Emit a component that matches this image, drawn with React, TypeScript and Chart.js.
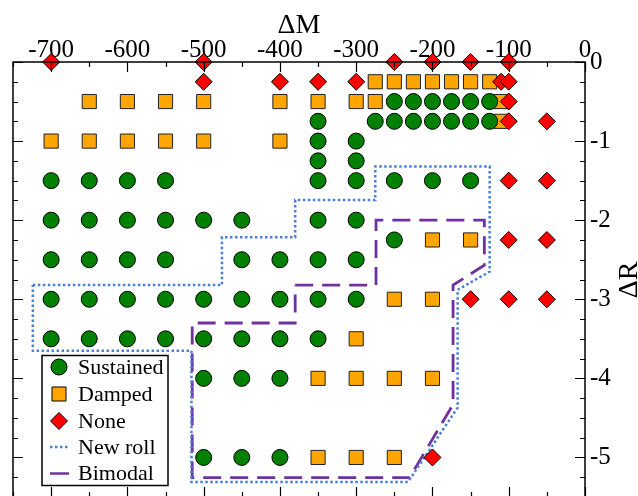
import React, { useEffect, useRef } from 'react';
import { Chart, registerables } from 'chart.js';

Chart.register(...registerables);

// ---------- data ----------
const xTicks = [-700, -600, -500, -400, -300, -200, -100, 0];
const yTicks = [0, -1, -2, -3, -4, -5];

const sustained: [number, number][] = [
  [-250, -0.5], [-225, -0.5], [-200, -0.5], [-175, -0.5], [-150, -0.5], [-125, -0.5],
  [-350, -0.75], [-275, -0.75], [-250, -0.75], [-225, -0.75], [-200, -0.75], [-175, -0.75], [-150, -0.75], [-125, -0.75],
  [-350, -1], [-300, -1],
  [-350, -1.25], [-300, -1.25],
  [-700, -1.5], [-650, -1.5], [-600, -1.5], [-550, -1.5], [-350, -1.5], [-300, -1.5], [-250, -1.5], [-200, -1.5], [-150, -1.5],
  [-700, -2], [-650, -2], [-600, -2], [-550, -2], [-500, -2], [-450, -2], [-350, -2], [-300, -2],
  [-250, -2.25],
  [-700, -2.5], [-650, -2.5], [-600, -2.5], [-550, -2.5], [-450, -2.5], [-400, -2.5], [-350, -2.5], [-300, -2.5],
  [-700, -3], [-650, -3], [-600, -3], [-550, -3], [-500, -3], [-450, -3], [-400, -3], [-350, -3], [-300, -3],
  [-700, -3.5], [-650, -3.5], [-600, -3.5], [-550, -3.5], [-500, -3.5], [-450, -3.5], [-400, -3.5], [-350, -3.5],
  [-500, -4], [-450, -4], [-400, -4],
  [-500, -5], [-450, -5], [-400, -5],
];

const damped: [number, number][] = [
  [-275, -0.25], [-250, -0.25], [-225, -0.25], [-200, -0.25], [-175, -0.25], [-150, -0.25], [-125, -0.25],
  [-650, -0.5], [-600, -0.5], [-550, -0.5], [-500, -0.5], [-400, -0.5], [-350, -0.5], [-300, -0.5], [-275, -0.5], [-110, -0.5],
  [-110, -0.75],
  [-700, -1], [-650, -1], [-600, -1], [-550, -1], [-500, -1], [-400, -1],
  [-200, -2.25], [-150, -2.25],
  [-250, -3], [-200, -3],
  [-300, -3.5],
  [-350, -4], [-300, -4], [-250, -4], [-200, -4],
  [-350, -5], [-300, -5], [-250, -5],
];

const none: [number, number][] = [
  [-700, 0], [-500, 0], [-250, 0], [-200, 0], [-150, 0], [-100, 0],
  [-500, -0.25], [-400, -0.25], [-350, -0.25], [-300, -0.25], [-110, -0.25], [-100, -0.25],
  [-100, -0.5],
  [-100, -0.75], [-50, -0.75],
  [-100, -1.5], [-50, -1.5],
  [-100, -2.25], [-50, -2.25],
  [-150, -3], [-100, -3], [-50, -3],
  [-200, -5],
];

const newRoll: [number, number][] = [
  [-724, -2.82], [-476, -2.82], [-476, -2.215], [-380, -2.215], [-380, -1.745],
  [-275, -1.745], [-275, -1.32], [-125, -1.32], [-125, -2.65], [-167, -2.88],
  [-167, -4.37], [-232, -5.31], [-516, -5.31], [-516, -3.65], [-724, -3.65], [-724, -2.82],
];

const bimodal: [number, number][] = [
  [-380, -2.82], [-274, -2.82], [-274, -2.0], [-132, -2.0], [-132, -2.57], [-173, -2.82],
  [-173, -4.33], [-230, -5.255], [-515, -5.255], [-515, -3.3], [-380, -3.3], [-380, -2.82],
];

const toXY = (arr: [number, number][]) => arr.map(([x, y]) => ({ x, y }));

const SERIF = '"Liberation Serif", "Times New Roman", serif';
const GREEN = '#008000';
const ORANGE = '#FFA500';
const RED = '#FF0000';
const BLUE = '#4a7fd6';
const PURPLE = '#7030a0';

const framePlugin = {
  id: 'frame',
  afterDatasetsDraw(chart: any) {
    const { ctx, chartArea } = chart;
    const { left, right, top, bottom } = chartArea;
    const xs = chart.scales.x;
    const ys = chart.scales.y;
    ctx.save();
    ctx.strokeStyle = '#000';
    ctx.lineWidth = 1.5;
    ctx.strokeRect(left, top, right - left, bottom - top);
    ctx.lineWidth = 1.2;
    ctx.beginPath();
    for (let v = -750; v <= 0; v += 50) {
      const px = Math.round(xs.getPixelForValue(v)) + 0.5;
      const len = v % 100 === 0 ? 10 : 5;
      ctx.moveTo(px, top); ctx.lineTo(px, top + len);
      ctx.moveTo(px, bottom); ctx.lineTo(px, bottom - len);
    }
    for (let v = 0; v >= -5.5; v -= 0.25) {
      const py = Math.round(ys.getPixelForValue(v)) + 0.5;
      const len = Math.abs(v % 1) < 1e-6 ? 10 : 5;
      ctx.moveTo(left, py); ctx.lineTo(left + len, py);
      ctx.moveTo(right, py); ctx.lineTo(right - len, py);
    }
    ctx.stroke();
    ctx.restore();
  },
  afterDraw(chart: any) {
    const { ctx, chartArea } = chart;
    const { left, right, top } = chartArea;
    ctx.save();
    // axis titles
    ctx.fillStyle = '#000';
    ctx.font = `28px ${SERIF}`;
    ctx.textAlign = 'center';
    ctx.textBaseline = 'alphabetic';
    ctx.fillText('ΔM', (left + right) / 2, 33);
    ctx.save();
    ctx.translate(637, top + 218);
    ctx.rotate(-Math.PI / 2);
    ctx.fillText('ΔR', 0, 0);
    ctx.restore();

    // legend
    const bx = left + 29, by = 355.5, bw = 126, bh = 130;
    ctx.fillStyle = '#fff';
    ctx.fillRect(bx, by, bw, bh);
    ctx.strokeStyle = '#000';
    ctx.lineWidth = 1.5;
    ctx.strokeRect(bx, by, bw, bh);
    const sx = bx + 17;
    const tx = bx + 36;
    const rows = [by + 11.5, by + 38.5, by + 65.5, by + 91.5, by + 118];
    ctx.lineWidth = 1;
    // circle
    ctx.beginPath();
    ctx.arc(sx, rows[0], 8, 0, Math.PI * 2);
    ctx.fillStyle = GREEN; ctx.fill(); ctx.strokeStyle = '#000'; ctx.stroke();
    // square
    ctx.beginPath();
    ctx.rect(sx - 7, rows[1] - 7, 14, 14);
    ctx.fillStyle = ORANGE; ctx.fill(); ctx.stroke();
    // diamond
    ctx.beginPath();
    ctx.moveTo(sx, rows[2] - 8.5); ctx.lineTo(sx + 8.5, rows[2]); ctx.lineTo(sx, rows[2] + 8.5); ctx.lineTo(sx - 8.5, rows[2]);
    ctx.closePath();
    ctx.fillStyle = RED; ctx.fill(); ctx.stroke();
    // dotted
    ctx.save();
    ctx.strokeStyle = BLUE; ctx.lineWidth = 2.5; ctx.setLineDash([2.5, 2.5]);
    ctx.beginPath(); ctx.moveTo(sx - 9, rows[3]); ctx.lineTo(sx + 10, rows[3]); ctx.stroke();
    ctx.restore();
    ctx.save();
    ctx.strokeStyle = PURPLE; ctx.lineWidth = 2.5;
    ctx.beginPath(); ctx.moveTo(sx - 9, rows[4]); ctx.lineTo(sx + 10, rows[4]); ctx.stroke();
    ctx.restore();
    ctx.fillStyle = '#000';
    ctx.font = `22px ${SERIF}`;
    ctx.textAlign = 'left';
    ctx.textBaseline = 'middle';
    const labels = ['Sustained', 'Damped', 'None', 'New roll', 'Bimodal'];
    labels.forEach((l, i) => ctx.fillText(l, tx, rows[i] + 1));
    ctx.restore();
  },
};

export default function App() {
  const ref = useRef<HTMLCanvasElement>(null);
  useEffect(() => {
    if (!ref.current) return;
    const chart = new Chart(ref.current, {
      type: 'scatter',
      data: {
        datasets: [
          {
            label: 'Sustained', data: toXY(sustained), pointStyle: 'circle', pointRadius: 8,
            backgroundColor: GREEN, borderColor: '#000', borderWidth: 1, clip: false, order: 0,
          },
          {
            label: 'None', data: toXY(none), pointStyle: 'rectRot', pointRadius: 8.5,
            backgroundColor: RED, borderColor: '#000', borderWidth: 1, clip: false, order: 1,
          },
          {
            label: 'Damped', data: toXY(damped), pointStyle: 'rect', pointRadius: 10,
            backgroundColor: ORANGE, borderColor: '#222', borderWidth: 1, clip: false, order: 2,
          },
          {
            label: 'New roll', data: toXY(newRoll), showLine: true, pointRadius: 0, borderColor: BLUE,
            borderWidth: 2.5, borderDash: [2.5, 2.5], fill: false, tension: 0, clip: false, order: 3,
          },
          {
            label: 'Bimodal', data: toXY(bimodal), showLine: true, pointRadius: 0, borderColor: PURPLE,
            borderWidth: 2.8, borderDash: [18, 9], fill: false, tension: 0, clip: false, order: 4,
          },
        ],
      },
      options: {
        responsive: false,
        animation: false,
        events: [],
        layout: { padding: { left: 13, right: 0, top: 0, bottom: 13 } },
        plugins: { legend: { display: false }, tooltip: { enabled: false } },
        scales: {
          x: {
            type: 'linear', position: 'top', min: -750, max: 0,
            grid: { display: false, drawTicks: false },
            border: { display: false },
            afterBuildTicks: (s: any) => { s.ticks = xTicks.map((v) => ({ value: v })); },
            afterFit: (s: any) => { s.height = 62; s.paddingLeft = 0; s.paddingRight = 0; },
            ticks: { color: '#000', font: { family: SERIF, size: 25 }, padding: -3, maxRotation: 0, autoSkip: false },
          },
          y: {
            type: 'linear', position: 'right', min: -5.5, max: 0,
            grid: { display: false, drawTicks: false },
            border: { display: false },
            afterBuildTicks: (s: any) => { s.ticks = yTicks.map((v) => ({ value: v })); },
            afterFit: (s: any) => { s.width = 53; s.paddingTop = 0; s.paddingBottom = 0; },
            ticks: { color: '#000', font: { family: SERIF, size: 25 }, padding: 5, autoSkip: false },
          },
        },
      },
      plugins: [framePlugin],
    } as any);
    return () => chart.destroy();
  }, []);
  return (
    <div style={{ position: 'absolute', left: 0, top: 0, width: 638, height: 510, background: '#fff' }}>
      <canvas ref={ref} width={638} height={510} />
    </div>
  );
}
